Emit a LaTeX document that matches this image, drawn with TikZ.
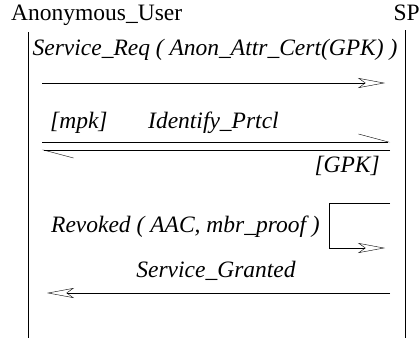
\documentclass[tikz,border=0pt]{standalone}
\usepackage{fontspec}
\setmainfont{Liberation Serif}
\usetikzlibrary{arrows.meta, positioning}

\begin{document}
\begin{tikzpicture}[x=1pt, y=-1pt, >={Stealth[open, length=27pt, width=10pt, inset=7pt]}]
	\tikzstyle{actor} = [font=\fontsize{23.5}{26}\selectfont, inner sep=0pt, anchor=base]
	\tikzstyle{msg} = [font=\fontsize{23.5}{26}\selectfont\itshape, inner sep=0pt, anchor=base]
	\tikzstyle{lifeline} = [line width=0.9pt]
	\tikzstyle{harp} = [-{Straight Barb[harpoon, length=30pt, width=16pt]}]

	\useasboundingbox (0,0) rectangle (420,338);

	% actors and lifelines
	\node[actor, anchor=base west] (user) at (11,20) {Anonymous\_User};
	\node[actor, anchor=base east] (sp) at (420,20) {SP};
	\coordinate (ut) at (28,32);  \coordinate (ub) at (28,338);
	\coordinate (st) at (405,30); \coordinate (sb) at (405,338);
	\draw[lifeline] (ut) -- (ub);
	\draw[lifeline] (st) -- (sb);

	% service request
	\node[msg] (req) at (215,55) {Service\_Req ( Anon\_Attr\_Cert(GPK) )};
	\coordinate (r1) at (42,83); \coordinate (r2) at (385,83);
	\draw[->] (r1) -- (r2);

	% identification protocol
	\node[msg, anchor=base west] (mpk) at (50,128) {[mpk]};
	\node[msg, anchor=base west] (idp) at (148,128) {Identify\_Prtcl};
	\node[msg, anchor=base east] (gpk) at (380,172) {[GPK]};
	\coordinate (i1) at (42,142); \coordinate (i2) at (390,142);
	\coordinate (i3) at (390,150); \coordinate (i4) at (42,150);
	\draw[harp] (i1) -- (i2);
	\draw[harp] (i3) -- (i4);

	% revocation check
	\node[msg, anchor=base east] (rev) at (320,232) {Revoked ( AAC, mbr\_proof )};
	\coordinate (v1) at (390,203); \coordinate (v2) at (329,203);
	\coordinate (v3) at (329,248); \coordinate (v4) at (385,248);
	\draw[->] (v1) -- (v2) -- (v3) -- (v4);

	% service granted
	\node[msg] (grant) at (216,277) {Service\_Granted};
	\coordinate (g1) at (390,293); \coordinate (g2) at (47,293);
	\draw[->] (g1) -- (g2);
\end{tikzpicture}
\end{document}
